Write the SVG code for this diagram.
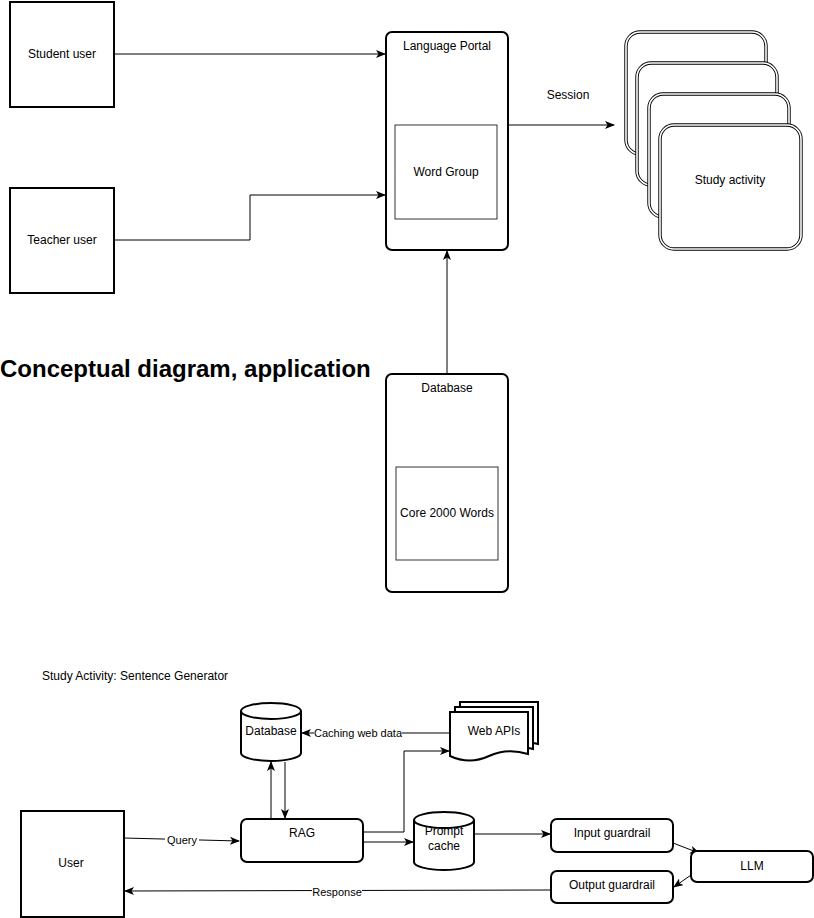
<svg xmlns="http://www.w3.org/2000/svg" width="814" height="918" viewBox="0 0 814 918">
<defs>
<style>
text{font-family:"Liberation Sans",Arial,Helvetica,sans-serif;fill:#000}
.t12{font-size:12px}
.t11{font-size:11px}
.c{text-anchor:middle}
.box{fill:#fff;stroke:#000;stroke-width:2}
.inner{fill:#fff;stroke:#333;stroke-width:1}
.ln{fill:none;stroke:#000;stroke-width:1}
.dbl1{fill:#fff;stroke:#000;stroke-width:3.4}
.dbl2{fill:none;stroke:#fff;stroke-width:1.6}
.lbl{fill:#fff}
</style>
<marker id="arr" viewBox="0 0 10 8" refX="9" refY="4" markerWidth="10" markerHeight="8" markerUnits="userSpaceOnUse" orient="auto">
<path d="M0,0 L10,4 L0,8 L2.5,4 Z" fill="#000"/>
</marker>
</defs>

<rect width="814" height="918" fill="#fff"/>

<text x="0" y="377" style="font-size:24px;font-weight:bold">Conceptual diagram, application</text>
<text x="42" y="680" class="t12">Study Activity: Sentence Generator</text>

<g id="connectors">
<path class="ln" d="M114,54 H385" marker-end="url(#arr)"/>
<path class="ln" d="M114,240 H250 V195 H385" marker-end="url(#arr)"/>
<path class="ln" d="M447,374 V251" marker-end="url(#arr)"/>
<path class="ln" d="M508,125 H614" marker-end="url(#arr)"/>
<text x="568" y="99" class="t12 c">Session</text>

<path class="ln" d="M124,838 L239,841" marker-end="url(#arr)"/>
<rect x="165" y="833" width="34" height="14" class="lbl"/>
<text x="182" y="844" class="t11 c">Query</text>
<path class="ln" d="M450,733 H302" marker-end="url(#arr)"/>
<rect x="314" y="726" width="88" height="14" class="lbl"/>
<text x="358" y="737" class="t11 c">Caching web data</text>
<path class="ln" d="M271,819 V762" marker-end="url(#arr)"/>
<path class="ln" d="M285,762 V818" marker-end="url(#arr)"/>
<path class="ln" d="M363,832 H404 V751 H449" marker-end="url(#arr)"/>
<path class="ln" d="M363,842 H413" marker-end="url(#arr)"/>
<path class="ln" d="M474,834 H550" marker-end="url(#arr)"/>
<path class="ln" d="M673,843 L699,853" marker-end="url(#arr)"/>
<path class="ln" d="M691,875 L674,887" marker-end="url(#arr)"/>
<path class="ln" d="M551,890 L125,891" marker-end="url(#arr)"/>
<rect x="312" y="885" width="50" height="14" class="lbl"/>
<text x="337" y="896" class="t11 c">Response</text>
</g>

<g id="student-user">
<rect x="10" y="2" width="104" height="105" class="box"/>
<text x="62" y="58" class="t12 c">Student user</text>
</g>
<g id="teacher-user">
<rect x="10" y="188" width="104" height="105" class="box"/>
<text x="62" y="244" class="t12 c">Teacher user</text>
</g>
<g id="language-portal">
<rect x="386" y="32" width="122" height="218" rx="6" class="box"/>
<text x="447" y="50" class="t12 c">Language Portal</text>
</g>
<g id="word-group">
<rect x="395" y="125" width="102" height="94" class="inner"/>
<text x="446" y="176" class="t12 c">Word Group</text>
</g>
<g id="database">
<rect x="386" y="374" width="122" height="218" rx="6" class="box"/>
<text x="447" y="392" class="t12 c">Database</text>
</g>
<g id="core-2000-words">
<rect x="396" y="467" width="102" height="93" class="inner"/>
<text x="447" y="517" class="t12 c">Core 2000 Words</text>
</g>
<g id="study-activity">
<rect x="626" y="32" width="140" height="122" rx="14" class="dbl1"/>
<rect x="626" y="32" width="140" height="122" rx="14" class="dbl2"/>
<rect x="637" y="63" width="140" height="122" rx="14" class="dbl1"/>
<rect x="637" y="63" width="140" height="122" rx="14" class="dbl2"/>
<rect x="649" y="94" width="140" height="123" rx="14" class="dbl1"/>
<rect x="649" y="94" width="140" height="123" rx="14" class="dbl2"/>
<rect x="660" y="125" width="141" height="124" rx="14" class="dbl1"/>
<rect x="660" y="125" width="141" height="124" rx="14" class="dbl2"/>
<text x="730" y="184" class="t12 c">Study activity</text>
</g>

<g id="user">
<rect x="21" y="811" width="103" height="106" class="box"/>
<text x="71" y="867" class="t12 c">User</text>
</g>
<g id="db-cylinder">
<path d="M241,711 A30,8 0 0 1 301,711 V753 A30,8 0 0 1 241,753 Z" class="box"/>
<path d="M241,711 A30,8 0 0 0 301,711" class="box" style="fill:none"/>
<text x="271" y="735" class="t12 c">Database</text>
</g>
<g id="web-apis">
<path d="M460,702 H538 V744 C525,740 512,740 499,746 C486,752 473,752 460,746 Z" class="box"/>
<path d="M455,707 H533 V749 C520,745 507,745 494,751 C481,757 468,757 455,751 Z" class="box"/>
<path d="M450,712 H528 V754 C515,750 502,750 489,756 C476,762 463,762 450,756 Z" class="box"/>
<text x="494" y="735" class="t12 c">Web APIs</text>
</g>
<g id="rag">
<rect x="241" y="819" width="122" height="43" rx="6" class="box"/>
<text x="302" y="837" class="t12 c">RAG</text>
</g>
<g id="prompt-cache">
<path d="M414,820 A30,8 0 0 1 474,820 V862 A30,8 0 0 1 414,862 Z" class="box"/>
<text x="444" y="835" class="t12 c">Prompt</text>
<path d="M414,820 A30,8 0 0 0 474,820" class="box" style="fill:none"/>
<text x="444" y="850" class="t12 c">cache</text>
</g>
<g id="input-guardrail">
<rect x="551" y="819" width="122" height="33" rx="6" class="box"/>
<text x="612" y="837" class="t12 c">Input guardrail</text>
</g>
<g id="llm">
<rect x="691" y="851" width="122" height="31" rx="6" class="box"/>
<text x="752" y="870" class="t12 c">LLM</text>
</g>
<g id="output-guardrail">
<rect x="551" y="871" width="122" height="32" rx="6" class="box"/>
<text x="612" y="889" class="t12 c">Output guardrail</text>
</g>
</svg>
